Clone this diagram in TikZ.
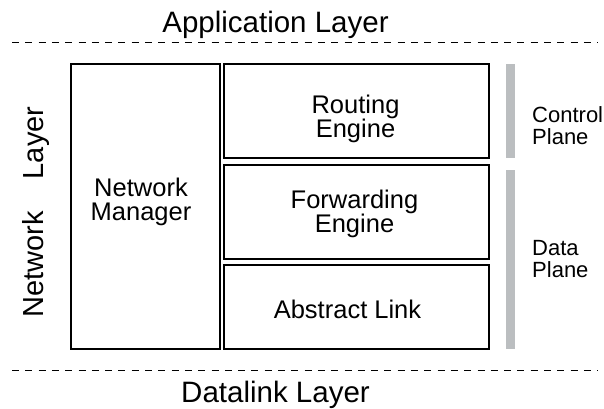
\documentclass[tikz,border=0pt]{standalone}
\usepackage{fontspec}
\setmainfont{Liberation Sans}
\newcommand\bigfnt{\fontsize{29.5}{30}\selectfont}
\newcommand\boxfnt{\fontsize{25.5}{24.5}\selectfont}
\newcommand\planefnt{\fontsize{22}{22}\selectfont}
\newcommand\twoc[2]{\vtop{\halign{\hfil##\hfil\cr #1\cr #2\cr}}}
\newcommand\twol[2]{\vtop{\halign{##\hfil\cr #1\cr #2\cr}}}
\definecolor{bargray}{RGB}{187,190,192}
\tikzset{
  layerbox/.style={draw=black, line width=1.6pt, inner sep=0pt, fill=none},
  bar/.style={fill=bargray, draw=none, inner sep=0pt, minimum width=9pt},
  sep/.style={line width=1.5pt, dash pattern=on 7pt off 6.3pt},
  lbl/.style={inner sep=0pt, anchor=base, font=\boxfnt},
  big/.style={inner sep=0pt, anchor=base, font=\bigfnt},
  plane/.style={inner sep=0pt, anchor=base west, font=\planefnt}
}
\begin{document}
\begin{tikzpicture}[x=1pt, y=-1pt]
\useasboundingbox (0,0) rectangle (604,408);
% layer separators
\coordinate (t1) at (12,42.5);
\coordinate (t2) at (598,42.5);
\coordinate (b1) at (12,370.5);
\coordinate (b2) at (598,370.5);
\draw[sep] (t1) -- (t2);
\draw[sep] (b1) -- (b2);
\node[big] (app) at (275.5,32) {Application Layer};
\node[big] (dl) at (275.5,402) {Datalink Layer};
\node[big, font=\fontsize{29}{30}\selectfont, rotate=90] (nl) at (43,212) {Network\hspace*{32pt}Layer};
% boxes
\node[layerbox, minimum width=149pt, minimum height=285pt] (nm) at (145.5,206.5) {};
\node[layerbox, minimum width=265pt, minimum height=94pt] (re) at (356.5,111) {};
\node[layerbox, minimum width=265pt, minimum height=94pt] (fe) at (356.5,212) {};
\node[layerbox, minimum width=265pt, minimum height=84pt] (al) at (356.5,307) {};
% texts
\node[lbl] (nmt) at (141,196) {\twoc{Network}{Manager}};
\node[lbl] (ret) at (355.5,113) {\twoc{Routing}{Engine}};
\node[lbl] (fet) at (354.5,208) {\twoc{Forwarding}{Engine}};
\node[lbl] (alt) at (347.5,318) {Abstract Link};
% plane bars
\node[bar, minimum height=94pt] (cb) at (510.5,111) {};
\node[bar, minimum height=179pt] (db) at (510.5,259.5) {};
\node[plane] (cp) at (532,122) {\twol{Control}{Plane}};
\node[plane] (dp) at (532,255) {\twol{Data}{Plane}};
\end{tikzpicture}
\end{document}
